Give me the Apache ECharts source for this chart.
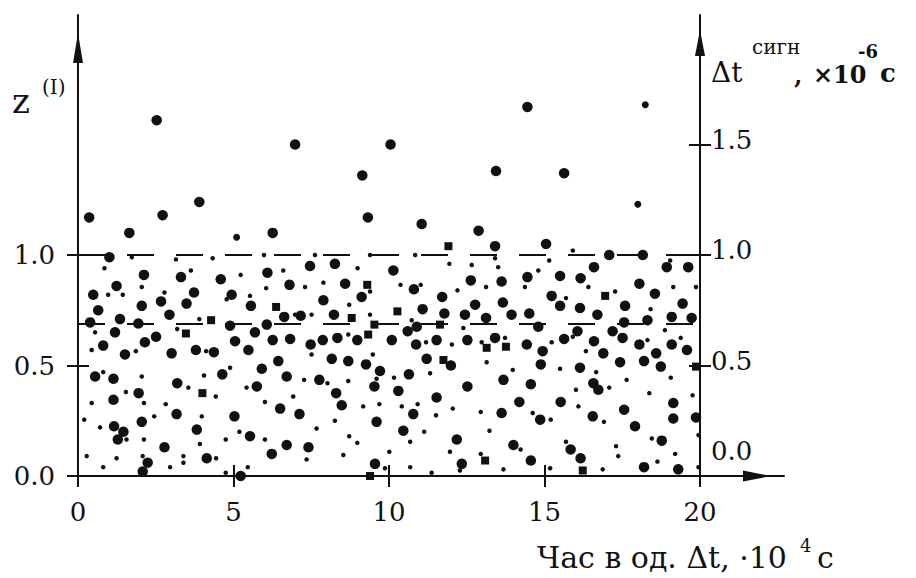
<!DOCTYPE html>
<html>
<head>
<meta charset="utf-8">
<style>
  html, body { margin: 0; padding: 0; background: #fff; }
  #chart { width: 916px; height: 578px; }
</style>
<script src="https://cdn.jsdelivr.net/npm/echarts@6/dist/echarts.min.js"></script>
</head>
<body>
<div id="chart"></div>
<script>
// ticks
const xTicks = [0, 5, 10, 15, 20]
const leftTicks = [0, 0.5, 1.0]
const rightTicks = [0.5, 1.0, 1.5]
const rightLabels = [0, 0.5, 1.0, 1.5]
// dashed levels
const dashLevels = [1.0, 0.69]

// large dots
const bigDots = [
  [0.36,1.17],[2.53,1.61],[1.65,1.10],[2.72,1.18],[3.90,1.24],[6.26,1.10],[6.98,1.50],[10.05,1.50],
  [9.14,1.36],[14.45,1.67],[13.44,1.38],[15.63,1.37],[9.32,1.17],[11.05,1.14],[12.88,1.11],
  [1.01,0.99],[2.12,0.91],[3.31,0.90],[4.59,0.89],[6.09,0.92],[1.24,0.86],[6.80,0.865],[0.49,0.82],
  [3.73,0.83],[4.94,0.82],[2.67,0.79],[3.49,0.78],[2.05,0.77],[0.65,0.75],[5.56,0.77],[1.35,0.71],
  [2.94,0.73],[0.39,0.695],[1.94,0.69],[4.89,0.68],[6.07,0.685],[6.63,0.72],[5.69,0.65],[1.19,0.65],
  [2.51,0.63],[0.81,0.59],[2.15,0.605],[5.05,0.61],[6.26,0.615],[6.82,0.62],[1.51,0.55],[3.01,0.555],
  [3.79,0.57],[4.37,0.56],[5.48,0.57],[6.44,0.52],[5.91,0.485],
  [0.55,0.45],[1.14,0.44],[3.19,0.42],[4.64,0.46],[6.71,0.45],[5.75,0.405],[1.95,0.375],[1.14,0.345],
  [6.50,0.305],[3.17,0.28],[5.03,0.27],[2.05,0.245],[1.16,0.225],[1.46,0.20],[1.28,0.165],[3.82,0.21],
  [5.53,0.18],[6.71,0.14],[2.78,0.13],[6.23,0.10],[2.24,0.06],[2.08,0.02],[4.14,0.08],[5.23,0.0],
  [13.41,1.04],[7.46,0.95],[8.26,0.96],[10.14,0.93],[8.59,0.87],[10.80,0.845],[12.63,0.885],[7.89,0.795],
  [9.12,0.81],[11.71,0.81],[12.77,0.775],[7.16,0.725],[8.23,0.73],[11.08,0.755],[11.78,0.735],[12.44,0.73],
  [13.12,0.715],[10.89,0.675],[10.60,0.655],[7.48,0.595],[7.87,0.615],[8.34,0.625],[8.98,0.615],[10.09,0.615],
  [10.87,0.595],[11.53,0.615],[12.52,0.615],[13.41,0.625],[8.16,0.53],[8.69,0.52],[9.26,0.505],[11.21,0.53],
  [11.99,0.50],[7.76,0.435],[9.71,0.475],[9.53,0.405],[10.64,0.46],[12.52,0.405],[8.30,0.375],[10.30,0.385],
  [11.53,0.355],[7.12,0.28],[8.48,0.32],[10.78,0.28],[9.60,0.245],[10.46,0.205],[7.41,0.13],[12.18,0.165],
  [9.55,0.055],[12.34,0.055],
  [15.05,1.05],[17.08,1.0],[18.16,1.0],[16.59,0.945],[18.93,0.945],[19.62,0.945],[13.62,0.88],[14.45,0.90],
  [15.50,0.905],[16.16,0.895],[18.05,0.87],[15.23,0.815],[18.55,0.825],[13.66,0.785],[15.50,0.77],[16.14,0.76],
  [17.59,0.77],[19.44,0.78],[13.94,0.73],[14.51,0.735],[16.70,0.73],[19.09,0.72],[19.73,0.715],[14.80,0.675],
  [16.06,0.655],[17.56,0.695],[18.31,0.705],[17.19,0.655],[14.43,0.595],[15.63,0.62],[16.59,0.61],[17.51,0.625],
  [18.05,0.595],[19.09,0.595],[19.58,0.57],[14.94,0.565],[16.89,0.555],[18.59,0.555],[18.20,0.52],[14.88,0.505],
  [16.14,0.49],[17.43,0.515],[18.74,0.495],
  [13.68,0.435],[14.56,0.415],[16.57,0.42],[16.73,0.39],[14.19,0.335],[15.52,0.335],[17.56,0.30],[19.14,0.33],
  [13.62,0.285],[14.86,0.255],[16.55,0.27],[17.91,0.225],[19.14,0.26],[19.87,0.265],[14.00,0.14],[15.84,0.12],
  [16.16,0.08],[18.77,0.16],[14.56,0.07],[18.20,0.04],[19.30,0.03]
]

// medium dots
const midDots = [[5.10,1.08],[18.24,1.68],[18.00,1.23]]

// squares
const squareDots = [
  [6.37,0.765],[4.28,0.705],[3.47,0.645],[4.00,0.375],[11.91,1.04],[9.30,0.865],[8.80,0.715],[10.27,0.745],
  [9.53,0.685],[11.64,0.685],[9.33,0.64],[13.14,0.58],[11.75,0.525],[13.09,0.07],[9.39,0.0],[16.95,0.815],
  [13.76,0.585],[19.87,0.495],[16.23,0.025]
]

// small dots
const smallDots = [
  [1.73,0.99],[3.15,0.98],[4.33,0.985],[5.98,1.0],[0.85,0.94],[3.63,0.93],[5.23,0.91],[6.60,0.93],
  [2.05,0.855],[6.05,0.85],[0.97,0.82],[1.44,0.82],[2.78,0.83],[5.53,0.815],[4.78,0.80],[3.90,0.71],
  [0.55,0.65],[3.19,0.665],[0.44,0.57],[1.86,0.565],[4.12,0.565],[4.89,0.49],
  [0.81,0.47],[2.05,0.45],[3.55,0.40],[4.05,0.455],[5.42,0.40],[1.54,0.38],[4.43,0.36],[0.44,0.33],
  [2.12,0.33],[2.82,0.325],[6.01,0.335],[3.98,0.27],[0.20,0.255],[2.45,0.27],[0.71,0.22],[1.56,0.165],
  [2.12,0.165],[5.19,0.20],[4.75,0.165],[6.01,0.165],[3.92,0.145],[0.28,0.09],[1.24,0.08],[2.08,0.09],
  [3.39,0.09],[3.39,0.06],[4.44,0.08],[0.81,0.04],[2.96,0.04],[5.46,0.04],[4.75,0.015],
  [7.62,1.0],[9.39,1.0],[10.84,1.0],[11.94,0.96],[12.66,0.955],[13.41,0.985],[8.99,0.94],[7.30,0.855],
  [7.89,0.875],[9.39,0.835],[10.37,0.865],[11.02,0.865],[13.12,0.855],[12.20,0.84],[8.72,0.775],[6.98,0.73],
  [7.51,0.73],[9.39,0.73],[12.39,0.67],[8.69,0.64],[11.19,0.605],[12.02,0.595],[12.98,0.605],[7.51,0.55],
  [9.48,0.55],[13.14,0.515],[10.73,0.705],
  [7.27,0.435],[8.02,0.42],[8.69,0.43],[9.60,0.44],[10.16,0.445],[11.32,0.465],[6.92,0.36],[9.17,0.315],
  [9.69,0.325],[10.41,0.315],[10.92,0.325],[11.51,0.275],[12.05,0.305],[12.95,0.29],[8.26,0.25],[7.67,0.215],
  [11.13,0.20],[13.23,0.205],[8.72,0.18],[8.98,0.15],[10.68,0.155],[7.35,0.075],[8.53,0.095],[10.01,0.11],
  [11.96,0.11],[12.95,0.10],[10.68,0.04],[9.87,0.035],[11.37,0.015],[12.28,0.025],
  [15.91,1.02],[15.15,0.975],[19.04,0.975],[13.51,0.945],[14.80,0.93],[14.37,0.855],[16.41,0.855],[19.14,0.855],
  [19.87,0.855],[15.69,0.805],[17.27,0.835],[18.41,0.755],[18.87,0.66],[13.73,0.625],[15.23,0.605],[15.91,0.63],
  [18.31,0.615],[19.38,0.625],[16.33,0.565],[13.98,0.48],
  [15.50,0.485],[16.66,0.47],[17.08,0.40],[16.01,0.39],[17.64,0.435],[19.06,0.445],[18.37,0.375],[19.76,0.365],
  [16.09,0.315],[14.62,0.285],[15.20,0.255],[16.91,0.245],[14.23,0.12],[15.69,0.155],[17.30,0.135],[17.37,0.09],
  [18.45,0.17],[19.20,0.10],[19.95,0.185],[13.68,0.03],[15.18,0.035],[16.87,0.03],[18.63,0.065],[19.95,0.04]
]

const ink = '#111'
const serif = 'DejaVu Serif'
const xMax = 22.7
const yMax = 2.086

const chart = echarts.init(document.getElementById('chart'), null, { renderer: 'svg' })

const axisLineStyle = { color: ink, width: 2 }
const tickStyle = { color: ink, width: 2 }
const gridBox = { left: 78, right: 132, top: 15, bottom: 102, containLabel: false, outerBoundsMode: 'none' }

// helper axis that only draws the other half of a crossing tick
const tickOnly = (extra) => Object.assign({
  type: 'value', min: 0,
  axisLine: { show: false, onZero: false },
  axisLabel: { show: false },
  splitLine: { show: false }
}, extra)

// annotation text, y is the glyph centre line
const label = (text, x, y, size, weight) => ({
  type: 'text', x: x, y: y, silent: true,
  style: {
    text: text, fill: ink, font: (weight || 'normal') + ' ' + size + 'px ' + serif,
    align: 'left', verticalAlign: 'middle'
  }
})

const option = {
  animation: false,
  backgroundColor: '#fff',
  grid: [gridBox, gridBox, gridBox, gridBox],
  xAxis: [
    {
      type: 'value', min: 0, max: xMax, gridIndex: 0, position: 'bottom',
      axisLine: { show: true, onZero: false, lineStyle: axisLineStyle, symbol: ['none', 'triangle'], symbolSize: [11, 28], symbolOffset: [0, -27] },
      axisTick: { show: false },
      axisLabel: { customValues: xTicks, margin: 23, color: ink, fontFamily: serif, fontSize: 26 },
      splitLine: { show: false }
    },
    tickOnly({ max: xMax, gridIndex: 1, position: 'bottom', offset: -11,
      axisTick: { show: true, customValues: xTicks, length: 22, lineStyle: tickStyle } }),
    tickOnly({ max: xMax, gridIndex: 2, show: false }),
    tickOnly({ max: xMax, gridIndex: 3, show: false })
  ],
  yAxis: [
    {
      type: 'value', min: 0, max: yMax, gridIndex: 0, position: 'left',
      axisLine: { show: true, onZero: false, lineStyle: axisLineStyle, symbol: ['none', 'triangle'], symbolSize: [10, 30], symbolOffset: [0, -33] },
      axisTick: { show: false },
      axisLabel: { customValues: leftTicks, margin: 23, color: ink, fontFamily: serif, fontSize: 26, padding: [0, 0, 8, 0], formatter: v => v.toFixed(1) },
      splitLine: { show: false }
    },
    tickOnly({ max: yMax, gridIndex: 1, position: 'left', offset: -11,
      axisTick: { show: true, customValues: leftTicks, length: 22, lineStyle: tickStyle } }),
    {
      type: 'value', min: 0, max: yMax, gridIndex: 2, position: 'right', offset: -84,
      axisLine: { show: true, onZero: false, lineStyle: axisLineStyle, symbol: ['none', 'triangle'], symbolSize: [10, 26], symbolOffset: [0, -28] },
      axisTick: { show: false },
      axisLabel: {
        customValues: rightLabels, margin: 11, color: ink, fontFamily: serif, fontSize: 26, padding: [0, 0, 10, 0],
        formatter: v => v === 0 ? '{lift|0.0}' : v.toFixed(1),
        rich: { lift: { fontFamily: serif, fontSize: 26, color: ink, padding: [0, 0, 40, 0] } }
      },
      splitLine: { show: false }
    },
    tickOnly({ max: yMax, gridIndex: 3, position: 'right', offset: -95,
      axisTick: { show: true, customValues: rightTicks, length: 22, lineStyle: tickStyle } })
  ],
  graphic: [
    label('z', 12, 101, 34),
    label('(I)', 42, 87, 20),
    label('Δt', 711, 72, 28),
    label('сигн', 752, 47, 20),
    label(',', 794, 75, 24, 'bold'),
    label('×10', 813, 74, 24, 'bold'),
    label('-6', 858, 51, 18, 'bold'),
    label('c', 880, 73, 26, 'bold'),
    label('Час в од. Δt, ·10', 537, 557, 30),
    label('4', 800, 545, 18),
    label('c', 817, 557, 30)
  ],
  series: [
    {
      name: 'big', type: 'scatter', symbol: 'circle', symbolSize: 10.5, data: bigDots,
      itemStyle: { color: ink, opacity: 1 }, silent: true,
      markLine: {
        silent: true, symbol: ['none', 'none'], label: { show: false },
        lineStyle: { type: [27, 22], width: 1.8, color: ink, opacity: 1 },
        data: dashLevels.map(v => [{ coord: [0, v] }, { coord: [20, v] }])
      }
    },
    { name: 'mid', type: 'scatter', symbol: 'circle', symbolSize: 7, data: midDots, itemStyle: { color: ink, opacity: 1 }, silent: true },
    { name: 'small', type: 'scatter', symbol: 'circle', symbolSize: 4.5, data: smallDots, itemStyle: { color: ink, opacity: 1 }, silent: true },
    { name: 'square', type: 'scatter', symbol: 'rect', symbolSize: 8, data: squareDots, itemStyle: { color: ink, opacity: 1 }, silent: true }
  ]
}

chart.setOption(option)
window.addEventListener('resize', () => chart.resize())
</script>
</body>
</html>
